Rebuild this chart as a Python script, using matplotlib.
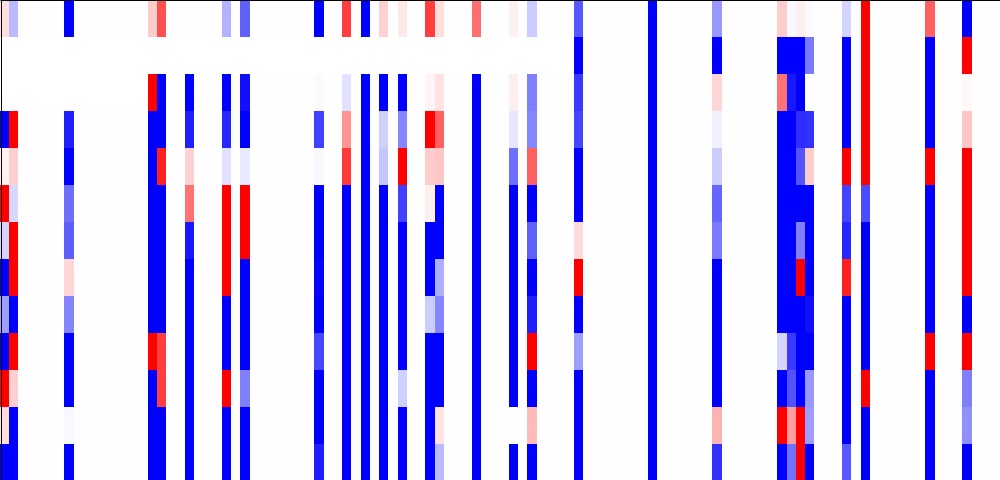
import numpy as np
import matplotlib
matplotlib.use("Agg")
import matplotlib.pyplot as plt
from matplotlib.lines import Line2D

N_COLS = 108
N_ROWS = 13
n = np.nan

col_00 = [0.13, n, n, -1, 0.05, 1, -0.17, -1, -0.38, -1, 1, 0.13, -1]
col_01 = [-0.27, n, n, 1, 0.18, -0.15, 1, 1, -1, 1, 0.18, -1, -1]
col_07 = [-1, n, n, -0.87, -1, -0.57, -0.63, 0.16, -0.48, -1, -1, -0.03, -1]
col_16 = [0.2, n, 1, -1, -1, -1, -1, -1, -1, 1, -1, -1, -1]
col_17 = [0.68, n, -1, -1, 0.87, -1, -1, -1, -1, 0.75, 0.75, -1, -1]
col_20 = [n, n, -1, -0.87, 0.18, 0.55, -0.9, -1, -1, -1, -1, -1, -1]
col_24 = [-0.3, n, -1, -0.85, -0.11, 1, 1, 1, -1, -1, 1, -1, -1]
col_26 = [-0.62, n, -0.93, -1, -0.08, 1, 1, -1, -1, -1, -0.5, -1, -1]
col_34 = [-1, n, -0.02, -0.75, -0.03, -1, -1, -0.98, -1, -0.72, -1, -1, -0.88]
col_37 = [0.75, n, -0.11, 0.42, 0.77, -1, -1, -1, -1, -1, -1, -1, -1]
col_39 = [-1, n, -1, -1, -1, -1, -1, -1, -1, -1, -1, -1, -1]
col_41 = [0.18, n, -1, -0.18, -0.22, -1, -1, -1, -1, -1, -1, -1, -1]
col_43 = [0.09, n, -1, -0.47, 1, -0.75, -1, -1, -1, -1, -0.18, -1, -1]
col_46 = [0.75, n, 0.04, 1, 0.2, 0.07, -1, -1, -0.2, -1, -1, -1, -1]
col_47 = [0.13, n, 0.11, 0.62, 0.22, -1, -1, -0.32, -0.47, -1, -1, 0.11, -0.27]
col_51 = [0.57, n, -1, -1, -1, -1, -1, -1, -1, -1, -1, -1, -1]
col_55 = [0.06, n, 0.07, -0.1, -0.57, -1, -1, -1, -1, -1, -1, n, -1]
col_57 = [-0.2, n, -0.5, -0.47, 0.62, -1, -0.62, -1, -0.87, 1, -1, 0.27, -1]
col_62 = [-0.65, -1, -0.78, -0.72, -1, -1, 0.14, 1, -1, -0.38, -1, -1, -1]
col_70 = [-1, -1, -1, -1, -1, -1, -1, -1, -1, -1, -1, -1, -1]
col_77 = [-0.4, -1, 0.16, -0.06, -0.2, -0.6, -0.52, -1, -1, -1, -1, 0.3, -0.8]
col_84 = [0.2, -1, 0.55, -1, -1, -1, -1, -1, -1, -0.17, -1, 1, -1]
col_85 = [-0.03, -1, -0.9, -1, -1, -1, -1, -1, -1, -0.77, -0.67, 0.38, -0.55]
col_86 = [0.07, -1, -1, -0.82, -0.67, -1, -0.5, 1, -1, -1, -1, 1, 1]
col_87 = [-0.02, -0.52, n, -0.8, 0.2, -1, -1, -1, -0.93, -1, -0.4, -0.38, -1]
col_91 = [-0.17, -1, -1, -1, 1, -0.73, -0.85, 0.87, -1, -1, -1, -1, -0.65]
col_93 = [1, 1, 1, 1, 1, -0.7, -1, -1, -1, -1, 1, -1, -1]
col_100 = [0.62, -1, -1, -1, 1, -1, -1, -1, -1, 1, -1, -1, -1]
col_104 = [-1, 1, 0.03, 0.22, 1, 1, 1, 1, -1, 1, -0.5, -0.43, -1]

columns = {0: col_00, 1: col_01, 7: col_07, 16: col_16, 17: col_17, 20: col_20,
           24: col_24, 26: col_26, 34: col_34, 37: col_37, 39: col_39, 41: col_41,
           43: col_43, 46: col_46, 47: col_47, 51: col_51, 55: col_55, 57: col_57,
           62: col_62, 70: col_70, 77: col_77, 84: col_84, 85: col_85, 86: col_86,
           87: col_87, 91: col_91, 93: col_93, 100: col_100, 104: col_104}

matrix = np.zeros((N_ROWS, N_COLS))
for idx, values in columns.items():
    matrix[:, idx] = values
# rows where every non-listed column is empty stay blank
matrix[1, :62] = np.nan
matrix[2, :16] = np.nan

fig = plt.figure(figsize=(10, 4.81), dpi=100)
ax = fig.add_axes([0, 0, 1, 1])
ax.pcolormesh(matrix, cmap="bwr", vmin=-1, vmax=1, antialiased=False,
              edgecolors="none", rasterized=False)
# half-pixel nudge so cell edges land on the same pixel rows/columns as the target
dx = 0.5 * N_COLS / 1000
dy = 0.5 * N_ROWS / 481
ax.set_xlim(dx, N_COLS + dx)
ax.set_ylim(N_ROWS - dy, -dy)
ax.set_xticks([])
ax.set_yticks([])
for spine in ax.spines.values():
    spine.set_visible(False)

# one-pixel frame: dark on top and left, pale on bottom and right
px_w = 72 / 100
x0, x1 = 0.5 / 1000, 1 - 0.5 / 1000
y0, y1 = 0.5 / 481, 1 - 0.5 / 481
for xs, ys, color in [((0, 1), (y0, y0), "#e6e6e6"), ((x1, x1), (0, 1), "#e6e6e6"),
                      ((0, 1), (y1, y1), "black"), ((x0, x0), (0, 1), "black")]:
    fig.add_artist(Line2D(xs, ys, transform=fig.transFigure, color=color,
                          linewidth=px_w, solid_capstyle="butt"))
fig.savefig("out.png", dpi=100)
